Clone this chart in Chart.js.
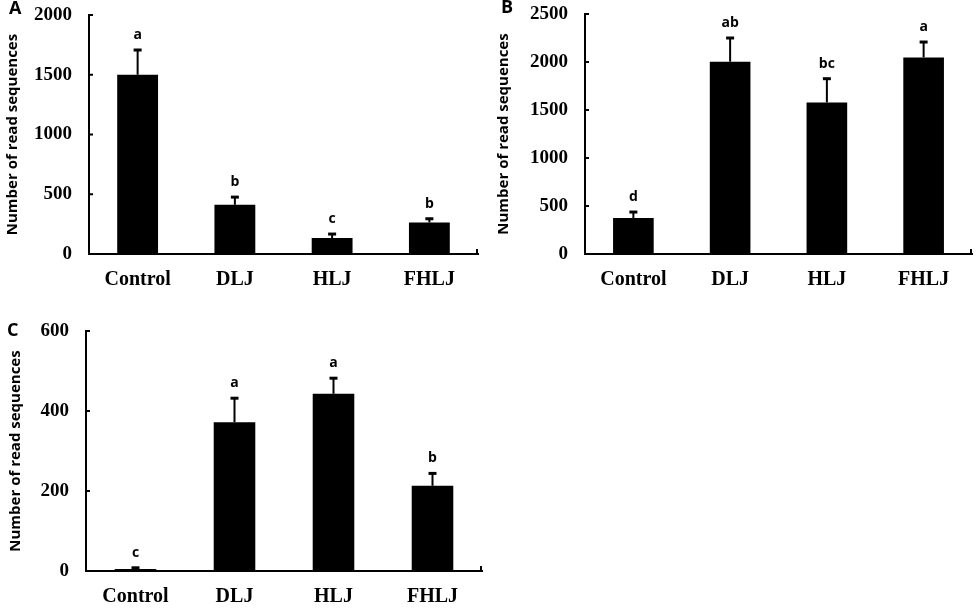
<!DOCTYPE html>
<html lang="en">
<head>
    <meta charset="utf-8">
    <title>Read sequences</title>
    <script src="https://cdn.jsdelivr.net/npm/chart.js@4.4.1/dist/chart.umd.min.js"></script>
    <style>
        body {
            margin: 0;
            background: #fff;
        }

        .panel {
            position: absolute;
        }

        .tag {
            position: absolute;
            font: bold 18px "Open Sans", sans-serif;
            color: #000;
        }
    </style>
</head>
<body>
<div class="panel" style="left:0;top:0;width:490px;height:300px"><canvas id="chartA"></canvas></div>
<div class="panel" style="left:490px;top:0;width:488px;height:300px"><canvas id="chartB"></canvas></div>
<div class="panel" style="left:0;top:300px;width:490px;height:310px"><canvas id="chartC"></canvas></div>
<div class="tag" style="left:9px;top:-5px">A</div>
<div class="tag" style="left:501px;top:-6px">B</div>
<div class="tag" style="left:7px;top:317px">C</div>

<script>
    var categories = ['Control', 'DLJ', 'HLJ', 'FHLJ'];

    // panel A
    var aValues = [1500, 412, 134, 264];
    var aErrors = [207, 64, 33, 31];
    var aLetters = ['a', 'b', 'c', 'b'];

    // panel B
    var bValues = [375, 2003, 1579, 2048];
    var bErrors = [62, 247, 247, 160];
    var bLetters = ['d', 'ab', 'bc', 'a'];

    // panel C
    var cValues = [5, 372, 443, 213];
    var cErrors = [3, 60, 39, 31];
    var cLetters = ['c', 'a', 'a', 'b'];

    // error bars, letters and the little inside ticks of the axes
    var errorBars = {
        id: 'errorBars',
        afterDatasetsDraw: function (chart, args, opts) {
            var ctx = chart.ctx;
            var y = chart.scales.y;
            var x = chart.scales.x;
            var values = chart.data.datasets[0].data;
            ctx.save();
            ctx.strokeStyle = '#000';
            ctx.fillStyle = '#000';
            chart.getDatasetMeta(0).data.forEach(function (bar, i) {
                var top = y.getPixelForValue(values[i] + opts.errors[i]);
                ctx.lineWidth = 2;
                ctx.beginPath();
                ctx.moveTo(bar.x, bar.y);
                ctx.lineTo(bar.x, top);
                ctx.stroke();
                ctx.lineWidth = 3;
                ctx.beginPath();
                ctx.moveTo(bar.x - 4, top);
                ctx.lineTo(bar.x + 4, top);
                ctx.stroke();
                ctx.font = 'bold 14px "Open Sans"';
                ctx.textAlign = 'center';
                ctx.textBaseline = 'middle';
                ctx.fillText(opts.letters[i], bar.x, top - 15);
            });
            ctx.lineWidth = 2;
            ctx.beginPath();
            y.ticks.forEach(function (t, i) {
                var py = y.getPixelForTick(i);
                ctx.moveTo(y.right, py);
                ctx.lineTo(y.right + 4, py);
            });
            ctx.moveTo(x.right - 1, x.top);
            ctx.lineTo(x.right - 1, x.top - 5);
            ctx.stroke();
            ctx.restore();
        }
    };

    function makePanel(id, values, errors, letters, max, step, pad, yWidth, xHeight, titleTop) {
        var ctx = document.getElementById(id).getContext('2d');
        return new Chart(ctx, {
            type: 'bar',
            data: {
                labels: categories,
                datasets: [{
                    data: values,
                    backgroundColor: '#000',
                    borderWidth: 0,
                    categoryPercentage: 1,
                    barPercentage: 0.42
                }]
            },
            options: {
                responsive: true,
                maintainAspectRatio: false,
                animation: false,
                layout: {padding: pad},
                plugins: {
                    legend: {display: false},
                    tooltip: {enabled: false},
                    errorBars: {errors: errors, letters: letters}
                },
                scales: {
                    x: {
                        // invisible tick marks only used to push the labels away
                        grid: {display: false, drawTicks: true, tickLength: 14},
                        border: {display: true, color: '#000', width: 2},
                        ticks: {
                            color: '#000',
                            padding: 0,
                            font: {family: 'Liberation Serif', size: 20, weight: 'bold'}
                        },
                        afterFit: function (s) { s.height = xHeight; }
                    },
                    y: {
                        min: 0,
                        max: max,
                        grid: {display: false, drawTicks: true, tickLength: 17},
                        border: {display: true, color: '#000', width: 2},
                        ticks: {
                            stepSize: step,
                            color: '#000',
                            padding: 0,
                            font: {family: 'Liberation Serif', size: 19, weight: 'bold'},
                            callback: function (v) { return String(v); }
                        },
                        title: {
                            display: true,
                            text: 'Number of read sequences',
                            color: '#000',
                            padding: {top: titleTop, bottom: 0},
                            font: {family: 'Open Sans', size: 15, weight: 'bold'}
                        },
                        afterFit: function (s) { s.width = yWidth; }
                    }
                }
            },
            plugins: [errorBars]
        });
    }

    makePanel('chartA', aValues, aErrors, aLetters, 2000, 500, {top: 15, right: 12, left: 0, bottom: 0}, 89, 46, 4);
    makePanel('chartB', bValues, bErrors, bLetters, 2500, 500, {top: 14, right: 6, left: 0, bottom: 0}, 95, 46, 5);
    makePanel('chartC', cValues, cErrors, cLetters, 600, 200, {top: 31, right: 8, left: 0, bottom: 0}, 86, 39, 7);
</script>
</body>
</html>
